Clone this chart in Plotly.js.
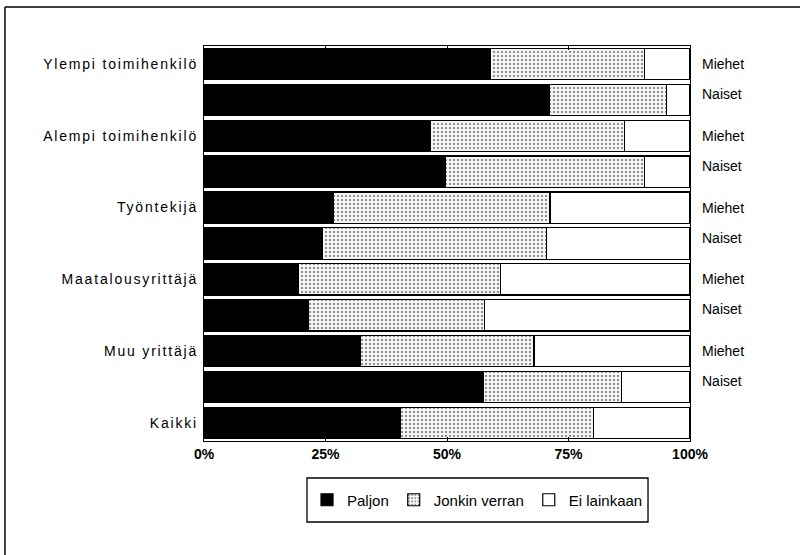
<!DOCTYPE html>
<html>
<head>
<meta charset="utf-8">
<script src="https://cdn.plot.ly/plotly-3.0.1.min.js"></script>
<style>
html,body{margin:0;padding:0;background:#fff;}
#chart{width:800px;height:555px;}
#chart .ytick text{letter-spacing:1.8px;}
</style>
</head>
<body>
<div id="chart"></div>
<script>
// Rows from top to bottom
const groupLabels = ["Ylempi toimihenkilö", "", "Alempi toimihenkilö", "", "Työntekijä", "", "Maatalousyrittäjä", "", "Muu yrittäjä", "", "Kaikki"];
const genderLabels = ["Miehet", "Naiset", "Miehet", "Naiset", "Miehet", "Naiset", "Miehet", "Naiset", "Miehet", "Naiset", ""];
const paljon = [59.0, 71.1, 46.6, 49.6, 26.6, 24.3, 19.5, 21.5, 32.2, 57.5, 40.5];
const jonkinVerran = [31.7, 24.1, 39.9, 41.0, 44.6, 46.2, 41.5, 36.2, 35.7, 28.4, 39.6];
const eiLainkaan = [9.3, 4.8, 13.5, 9.4, 28.8, 29.5, 39.0, 42.3, 32.1, 14.1, 19.9];
const xTicks = [0, 25, 50, 75, 100];
const seriesNames = ["Paljon", "Jonkin verran", "Ei lainkaan"];

const rows = groupLabels.map((_, i) => i);
const font = {family: "Liberation Sans, Arial, sans-serif", size: 14, color: "#000"};
const line = {color: "#000", width: 1.2};

const traces = [
  {type: "bar", orientation: "h", name: seriesNames[0], x: paljon, y: rows,
   marker: {color: "#000", line: line}},
  {type: "bar", orientation: "h", name: seriesNames[1], x: jonkinVerran, y: rows,
   marker: {color: "#eeeeee", line: line,
            pattern: {shape: ".", fgcolor: "#777", bgcolor: "#f4f4f4", size: 4, solidity: 0.22}}},
  {type: "bar", orientation: "h", name: seriesNames[2], x: eiLainkaan, y: rows,
   marker: {color: "#fff", line: line}}
];

const tv = [], tt = [];
groupLabels.forEach((g, i) => { if (g) { tv.push(i); tt.push(g); } });

const genderShift = {"Miehet": 0, "Naiset": 6};
const annotations = genderLabels.map((g, i) => ({
  xref: "paper", yref: "y", x: 1, y: i, xanchor: "left", yanchor: "middle",
  xshift: 10, yshift: genderShift[g] || 0, text: g, showarrow: false, font: font
})).filter(a => a.text);

const layout = {
  width: 800, height: 555,
  margin: {l: 204, r: 110, t: 46, b: 114},
  paper_bgcolor: "#fff", plot_bgcolor: "#fff",
  barmode: "stack", bargap: 0.13,
  font: font,
  showlegend: true,
  legend: {orientation: "h", x: 0.5628, xanchor: "center", y: -0.1494, yanchor: "middle",
           borderwidth: 0, font: {family: "Liberation Sans, Arial, sans-serif", size: 15, color: "#000"},
           traceorder: "normal", itemwidth: 30, tracegroupgap: 0, bgcolor: "rgba(0,0,0,0)"},
  xaxis: {range: [0, 100], tickvals: xTicks, ticktext: xTicks.map(v => v + "%"),
          showgrid: false, zeroline: false, showline: true, linecolor: "#000", linewidth: 1.2,
          mirror: "ticks", ticks: "inside", ticklen: 4, tickcolor: "#000",
          tickfont: {family: "Liberation Sans, Arial, sans-serif", size: 14, color: "#000", weight: "bold"}},
  yaxis: {range: [10.5, -0.5], tickvals: tv, ticktext: tt, showgrid: false, zeroline: false,
          showline: true, linecolor: "#000", linewidth: 1.2, mirror: true, ticks: "",
          ticklabelstandoff: 2, tickfont: font},
  annotations: annotations,
  shapes: [
    // outer frame (top and left edges only)
    {type: "line", xref: "paper", yref: "paper", x0: -0.4095, x1: 1.3, y0: 1.0987, y1: 1.0987,
     line: {color: "#000", width: 1.5}},
    {type: "line", xref: "paper", yref: "paper", x0: -0.4095, x1: -0.4095, y0: 1.0987, y1: -0.3,
     line: {color: "#000", width: 1.5}},
    // legend box
    {type: "rect", xref: "paper", yref: "paper", x0: 0.2119, x1: 0.9136, y0: -0.0937, y1: -0.2051,
     line: {color: "#000", width: 1.3}, fillcolor: "rgba(0,0,0,0)"}
  ]
};

Plotly.newPlot("chart", traces, layout, {displayModeBar: false, staticPlot: true});
</script>
</body>
</html>
